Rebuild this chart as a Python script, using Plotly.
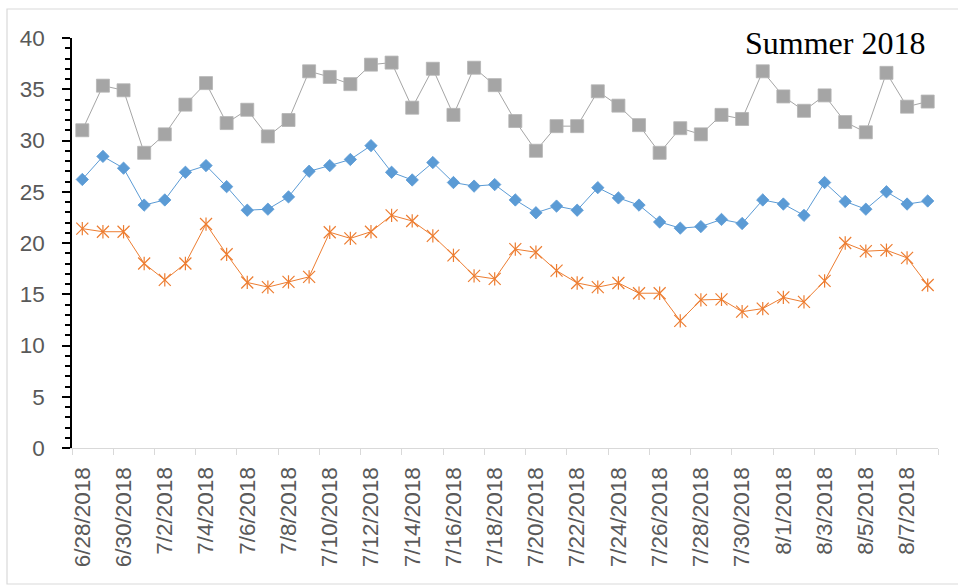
import plotly.graph_objects as go

dates = ["6/28/2018", "6/29/2018", "6/30/2018", "7/1/2018", "7/2/2018", "7/3/2018", "7/4/2018",
         "7/5/2018", "7/6/2018", "7/7/2018", "7/8/2018", "7/9/2018", "7/10/2018", "7/11/2018",
         "7/12/2018", "7/13/2018", "7/14/2018", "7/15/2018", "7/16/2018", "7/17/2018", "7/18/2018",
         "7/19/2018", "7/20/2018", "7/21/2018", "7/22/2018", "7/23/2018", "7/24/2018", "7/25/2018",
         "7/26/2018", "7/27/2018", "7/28/2018", "7/29/2018", "7/30/2018", "7/31/2018", "8/1/2018",
         "8/2/2018", "8/3/2018", "8/4/2018", "8/5/2018", "8/6/2018", "8/7/2018", "8/8/2018"]

gray_max = [31.0, 35.35, 34.9, 28.8, 30.6, 33.5, 35.6, 31.7, 33.0, 30.4, 32.0, 36.75,
            36.2, 35.5, 37.4, 37.6, 33.2, 37.0, 32.5, 37.1, 35.4, 31.9, 29.0, 31.4,
            31.4, 34.8, 33.4, 31.5, 28.8, 31.2, 30.6, 32.5, 32.1, 36.75, 34.3, 32.9,
            34.4, 31.8, 30.8, 36.6, 33.3, 33.8]

blue_mean = [26.2, 28.45, 27.3, 23.7, 24.2, 26.9, 27.55, 25.5, 23.2, 23.3, 24.5, 27.0,
             27.55, 28.15, 29.5, 26.9, 26.15, 27.85, 25.9, 25.55, 25.7, 24.2, 22.95, 23.6,
             23.2, 25.4, 24.4, 23.7, 22.05, 21.45, 21.6, 22.3, 21.9, 24.2, 23.8, 22.7,
             25.9, 24.05, 23.3, 25.0, 23.8, 24.1]

orange_min = [21.4, 21.1, 21.1, 18.0, 16.4, 18.0, 21.85, 18.9, 16.15, 15.7, 16.2, 16.7,
              21.05, 20.45, 21.1, 22.7, 22.15, 20.7, 18.8, 16.8, 16.5, 19.4, 19.1, 17.3,
              16.1, 15.7, 16.1, 15.1, 15.1, 12.4, 14.45, 14.5, 13.3, 13.6, 14.7, 14.25,
              16.3, 20.0, 19.2, 19.3, 18.55, 15.9]

y_ticks = [0, 5, 10, 15, 20, 25, 30, 35, 40]
title_text = "Summer 2018"

idx = list(range(len(dates)))
label_idx = idx[::2]
label_txt = dates[::2]

GRAY = "#A5A5A5"
BLUE = "#5B9BD5"
ORANGE = "#ED7D31"

fig = go.Figure()
fig.add_trace(go.Scatter(
    x=idx, y=gray_max, mode="lines+markers",
    line=dict(color=GRAY, width=1),
    marker=dict(symbol="square", size=13, color=GRAY, line=dict(color="#B4B4B4", width=0.8)),
    showlegend=False))
fig.add_trace(go.Scatter(
    x=idx, y=blue_mean, mode="lines+markers",
    line=dict(color=BLUE, width=1),
    marker=dict(symbol="diamond", size=9.5, color=BLUE, line=dict(color=BLUE, width=0.8)),
    showlegend=False))
fig.add_trace(go.Scatter(
    x=idx, y=orange_min, mode="lines+markers",
    line=dict(color=ORANGE, width=1),
    marker=dict(symbol="x-thin-open", size=12, color=ORANGE, line=dict(color=ORANGE, width=1.2)),
    showlegend=False))
fig.add_trace(go.Scatter(
    x=idx, y=orange_min, mode="markers",
    marker=dict(symbol="line-ns-open", size=9.5, color=ORANGE, line=dict(color=ORANGE, width=1.2)),
    showlegend=False))

fig.update_layout(
    width=958, height=586,
    margin=dict(l=72, r=20, t=38, b=138),
    paper_bgcolor="white", plot_bgcolor="white",
    font=dict(family="Liberation Sans, Arial, sans-serif", color="#595959", size=22),
    xaxis=dict(
        range=[-0.5, 41.5],
        tickmode="array", tickvals=label_idx, ticktext=label_txt,
        tickangle=-90, ticks="", ticklen=0, showgrid=False, zeroline=False,
        showline=True, linecolor="#D9D9D9", linewidth=1.2,
        tickfont=dict(size=22.5, color="#595959"),
        ticklabelstandoff=9,
        minor=dict(tickmode="array", tickvals=[i - 0.5 for i in range(0, 43, 2)],
                   ticks="outside", ticklen=6, tickcolor="#D9D9D9", tickwidth=1.2,
                   showgrid=False),
    ),
    yaxis=dict(
        range=[0, 40], tickmode="array", tickvals=y_ticks,
        ticks="outside", ticklen=8, tickcolor="black", tickwidth=1.5,
        showline=True, linecolor="black", linewidth=1.5,
        showgrid=False, zeroline=False,
        tickfont=dict(size=22.5, color="#595959"),
        ticklabelstandoff=13,
        minor=dict(dtick=1, tick0=0, ticks="outside", ticklen=5, tickcolor="black",
                   tickwidth=1.5, showgrid=False),
    ),
    shapes=[dict(type="rect", xref="paper", yref="paper",
                 x0=(7 - 72) / 866, x1=(965 - 72) / 866,
                 y0=(448 - 584) / 410, y1=(448 - 9) / 410,
                 line=dict(color="#D9D9D9", width=1.2), fillcolor="rgba(0,0,0,0)",
                 layer="below")],
    annotations=[dict(text=title_text, xref="paper", yref="paper",
                      x=(835 - 72) / 866, y=(448 - 43) / 410,
                      xanchor="center", yanchor="middle", showarrow=False,
                      font=dict(family="Liberation Serif, Times New Roman, serif",
                                size=32, color="black"))],
)

fig.write_html("out.html", config={"displayModeBar": False},
               post_script="document.body.style.margin='0';")
